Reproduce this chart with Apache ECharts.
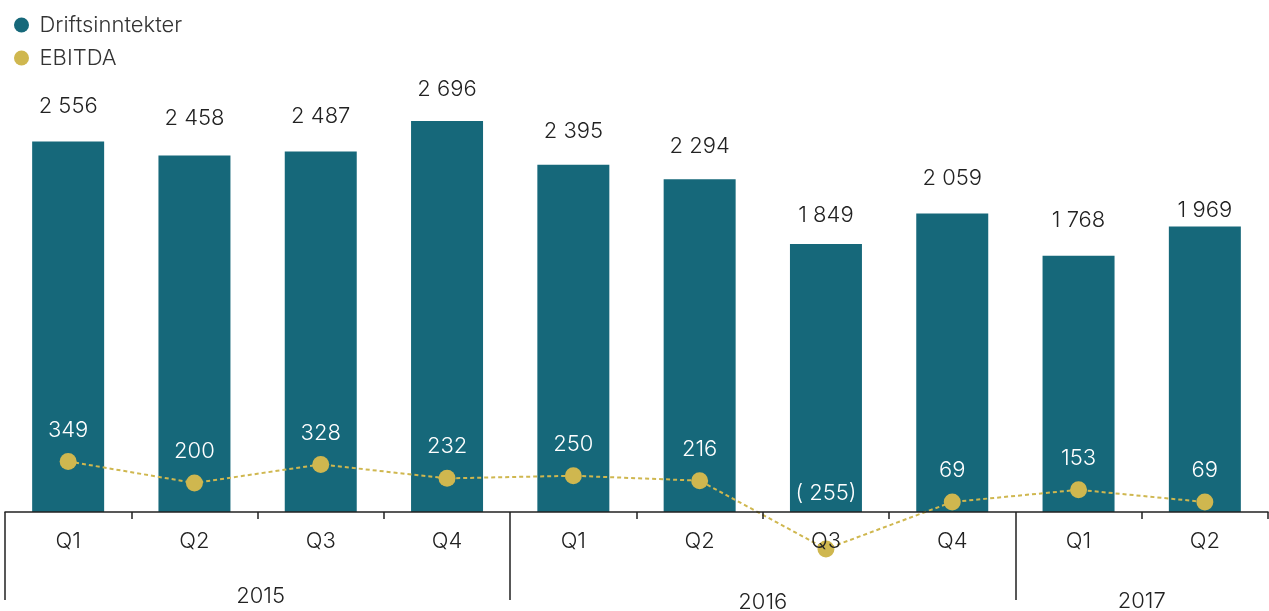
<!DOCTYPE html>
<html>
<head>
    <meta charset="UTF-8"/>
    <script src="https://cdn.jsdelivr.net/npm/echarts@6/dist/echarts.min.js"></script>
    <style>
        html, body {margin: 0; padding: 0; background: #fff;}
        #main {width: 1269px; height: 611px;}
    </style>
</head>
<body>
<div id="main"></div>
<script type="text/javascript">
    // data
    var quarters = ['Q1', 'Q2', 'Q3', 'Q4', 'Q1', 'Q2', 'Q3', 'Q4', 'Q1', 'Q2'];
    var revenue = [2556, 2458, 2487, 2696, 2395, 2294, 1849, 2059, 1768, 1969];
    var ebitda = [349, 200, 328, 232, 250, 216, -255, 69, 153, 69];
    var years = ['2015', '2016', '2017'];
    var yearCenters = [2, 6, 9];   // year label positions, in quarter units
    var yearBounds = [0, 4, 8];    // year separator lines

    // gap between bar top and its value label (the source is not uniform)
    var revLabelGap = [24, 26, 24, 21, 22, 22, 18, 24, 24, 5];

    var FONT = 'Inter, "Liberation Sans", sans-serif';
    var TEAL = '#16687a';
    var GOLD = '#cfb74f';

    function fmt(v) {
        var s = String(Math.abs(v)).replace(/\B(?=(\d{3})+(?!\d))/g, ' ');
        return v < 0 ? '( ' + s + ')' : s;
    }

    var revenueData = revenue.map(function (v, i) {
        return {value: v, label: {distance: revLabelGap[i]}};
    });
    // the negative value has its label lifted up into the bar
    var ebitdaData = ebitda.map(function (v) {
        return {value: v, label: {distance: v < 0 ? 36 : 12}};
    });

    var myChart = echarts.init(document.getElementById('main'));
    var option = {
        textStyle: {fontFamily: FONT},
        legend: {
            orient: 'vertical',
            left: 9,
            top: 9,
            itemWidth: 26,
            itemHeight: 15,
            itemGap: 11,
            icon: 'circle',
            textStyle: {fontSize: 22, color: '#333', fontFamily: FONT, fontWeight: 300},
            data: ['Driftsinntekter', 'EBITDA']
        },
        grid: [
            // bars: grid bottom is the zero line
            {left: 5, right: 1, top: 77, bottom: 99, containLabel: false, outerBoundsMode: 'none'},
            // EBITDA: same scale, but room below zero for the negative quarter
            {left: 5, right: 1, top: 77, bottom: 12, containLabel: false, outerBoundsMode: 'none'}
        ],
        xAxis: [{
            type: 'category',
            gridIndex: 0,
            data: quarters,
            z: 3,
            axisLine: {onZero: false, lineStyle: {color: '#222', width: 1.5}},
            axisTick: {show: true, length: 7, lineStyle: {color: '#222', width: 1.5}},
            axisLabel: {fontSize: 22, color: '#222', margin: 18, fontFamily: FONT, fontWeight: 300},
            splitLine: {show: false}
        }, {
            type: 'value',
            gridIndex: 0,
            min: 0,
            max: 10,
            position: 'bottom',
            z: 3,
            axisLine: {show: false, onZero: false},
            axisTick: {show: true, customValues: yearBounds, length: 88, lineStyle: {color: '#222', width: 1.5}},
            axisLabel: {
                customValues: yearCenters,
                fontSize: 22,
                color: '#222',
                margin: 73,
                fontFamily: FONT,
                fontWeight: 300,
                formatter: function (v) {
                    var i = yearCenters.indexOf(Number(v));
                    return '{y' + i + '|' + years[i] + '}';
                },
                rich: {
                    y0: {fontSize: 22, color: '#222', fontFamily: FONT, fontWeight: 300, padding: [0, 0, 0, 6]},
                    y1: {fontSize: 22, color: '#222', fontFamily: FONT, fontWeight: 300, padding: [6, 0, 0, 0]},
                    y2: {fontSize: 22, color: '#222', fontFamily: FONT, fontWeight: 300, padding: [5, 0, 0, 0]}
                }
            },
            splitLine: {show: false}
        }, {
            type: 'category',
            gridIndex: 1,
            data: quarters,
            show: false
        }],
        yAxis: [{
            type: 'value',
            gridIndex: 0,
            min: 0,
            max: 3000,
            show: false,
            splitLine: {show: false}
        }, {
            type: 'value',
            gridIndex: 1,
            min: -600,
            max: 3000,
            show: false,
            splitLine: {show: false}
        }],
        series: [
            {
                name: 'Driftsinntekter',
                type: 'bar',
                xAxisIndex: 0,
                yAxisIndex: 0,
                barWidth: '57%',
                itemStyle: {color: TEAL},
                label: {
                    show: true,
                    position: 'top',
                    fontSize: 22,
                    color: '#222',
                    fontFamily: FONT,
                    fontWeight: 300,
                    formatter: function (p) { return fmt(p.value); }
                },
                data: revenueData
            },
            {
                name: 'EBITDA',
                type: 'line',
                xAxisIndex: 2,
                yAxisIndex: 1,
                symbol: 'circle',
                symbolSize: 17,
                itemStyle: {color: GOLD},
                lineStyle: {color: GOLD, width: 2, type: [4, 3]},
                label: {
                    show: true,
                    position: 'top',
                    fontSize: 22,
                    color: '#fff',
                    fontFamily: FONT,
                    fontWeight: 300,
                    formatter: function (p) { return fmt(p.value); }
                },
                data: ebitdaData,
                z: 2
            }
        ]
    };
    myChart.setOption(option);
</script>
</body>
</html>
